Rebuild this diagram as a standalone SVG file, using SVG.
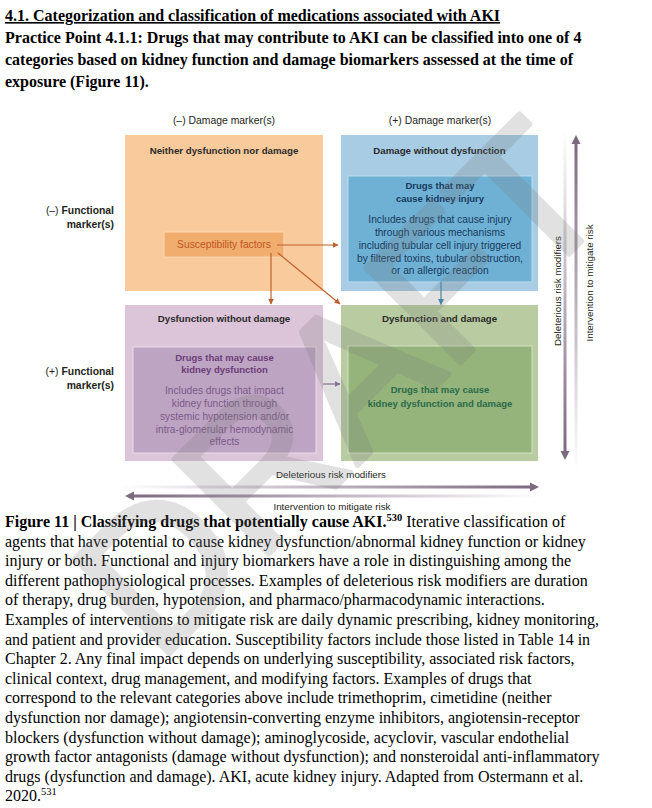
<svg xmlns="http://www.w3.org/2000/svg" width="652" height="808" viewBox="0 0 652 808">
<defs>
<style>
.hdr{font-family:"Liberation Serif","Times New Roman",serif;font-size:16px;font-weight:bold;fill:#000}
.cap{font-family:"Liberation Serif","Times New Roman",serif;font-size:16px;fill:#000}
.sans{font-family:"Liberation Sans",Arial,sans-serif}
.axis{font-family:"Liberation Sans",Arial,sans-serif;font-size:10.4px;fill:#231f20}
.qt{font-family:"Liberation Sans",Arial,sans-serif;font-size:9.7px;font-weight:bold;fill:#2b2a2a;text-anchor:middle}
.it{font-family:"Liberation Sans",Arial,sans-serif;font-size:9.5px;font-weight:bold;text-anchor:middle}
.ib{font-family:"Liberation Sans",Arial,sans-serif;font-size:10.2px;text-anchor:middle}
.rl{font-family:"Liberation Sans",Arial,sans-serif;font-size:9.8px;fill:#231f20;text-anchor:middle}
.oa{stroke:#c0602c;stroke-width:1.2;fill:none}
</style>
<marker id="ho" viewBox="0 0 6 6" refX="5.5" refY="3" markerWidth="6" markerHeight="6" markerUnits="userSpaceOnUse" orient="auto"><path d="M0,0 L6,3 L0,6 Z" fill="#c0602c"/></marker>
<marker id="hb" viewBox="0 0 6 6" refX="5.5" refY="3" markerWidth="6" markerHeight="6" markerUnits="userSpaceOnUse" orient="auto"><path d="M0,0 L6,3 L0,6 Z" fill="#3f88b4"/></marker>
<marker id="hp" viewBox="0 0 6 6" refX="5.5" refY="3" markerWidth="6" markerHeight="6" markerUnits="userSpaceOnUse" orient="auto"><path d="M0,0 L6,3 L0,6 Z" fill="#8b6f98"/></marker>
<linearGradient id="gH1" gradientUnits="userSpaceOnUse" x1="120" y1="0" x2="531" y2="0"><stop offset="0" stop-color="#7d6a80" stop-opacity="0"/><stop offset="1" stop-color="#7d6a80"/></linearGradient>
<linearGradient id="gH2" gradientUnits="userSpaceOnUse" x1="134" y1="0" x2="540" y2="0"><stop offset="0" stop-color="#7d6a80"/><stop offset="1" stop-color="#7d6a80" stop-opacity="0"/></linearGradient>
<linearGradient id="gV1" gradientUnits="userSpaceOnUse" x1="0" y1="130" x2="0" y2="451"><stop offset="0" stop-color="#7d6a80" stop-opacity="0"/><stop offset="1" stop-color="#7d6a80"/></linearGradient>
<linearGradient id="gV2" gradientUnits="userSpaceOnUse" x1="0" y1="144" x2="0" y2="470"><stop offset="0" stop-color="#7d6a80"/><stop offset="1" stop-color="#7d6a80" stop-opacity="0"/></linearGradient>
</defs>
<rect width="652" height="808" fill="#fff"/>

<g id="heading">
<text class="hdr" x="5" y="21" text-decoration="underline">4.1. Categorization and classification of medications associated with AKI</text>
<text class="hdr" x="5" y="43">Practice Point 4.1.1: Drugs that may contribute to AKI can be classified into one of 4</text>
<text class="hdr" x="5" y="65">categories based on kidney function and damage biomarkers assessed at the time of</text>
<text class="hdr" x="5" y="87">exposure (Figure 11).</text>
</g>

<g id="axis-labels">
<text class="axis" x="224" y="124" text-anchor="middle">(–) Damage marker(s)</text>
<text class="axis" x="440" y="124" text-anchor="middle">(+) Damage marker(s)</text>
<text class="axis" x="114" y="214" text-anchor="end">(–) <tspan font-weight="bold">Functional</tspan></text>
<text class="axis" x="114" y="228" text-anchor="end" font-weight="bold">marker(s)</text>
<text class="axis" x="114" y="375" text-anchor="end">(+) <tspan font-weight="bold">Functional</tspan></text>
<text class="axis" x="114" y="389" text-anchor="end" font-weight="bold">marker(s)</text>
</g>

<g id="q-neither">
<rect x="125" y="135" width="198" height="156" fill="#f8ca9c"/>
<text class="qt" x="224" y="154">Neither dysfunction nor damage</text>
</g>

<g id="q-damage">
<rect x="341" y="135" width="197" height="156" fill="#a7cce4"/>
<text class="qt" x="439.5" y="154">Damage without dysfunction</text>
<rect x="348" y="176" width="184" height="106" fill="#6fb1d5" stroke="#bcdcee" stroke-width="1"/>
<text class="it" x="440" y="189" fill="#17395c">Drugs that may</text>
<text class="it" x="440" y="202" fill="#17395c">cause kidney injury</text>
<text class="ib" x="440" y="223" fill="#17395c">Includes drugs that cause injury</text>
<text class="ib" x="440" y="236" fill="#17395c">through various mechanisms</text>
<text class="ib" x="440" y="249" fill="#17395c">including tubular cell injury triggered</text>
<text class="ib" x="440" y="262" fill="#17395c">by filtered toxins, tubular obstruction,</text>
<text class="ib" x="440" y="274" fill="#17395c">or an allergic reaction</text>
</g>

<g id="q-dysfunction">
<rect x="125" y="305" width="198" height="156" fill="#dcc4d9"/>
<text class="qt" x="224" y="322">Dysfunction without damage</text>
<rect x="133" y="347" width="183" height="106" fill="#bea4c3" stroke="#eadbe8" stroke-width="1"/>
<text class="it" x="224.5" y="361" fill="#6a3d78">Drugs that may cause</text>
<text class="it" x="224.5" y="373" fill="#6a3d78">kidney dysfunction</text>
<text class="ib" x="224.5" y="394" fill="#7b5a88">Includes drugs that impact</text>
<text class="ib" x="224.5" y="407" fill="#7b5a88">kidney function through</text>
<text class="ib" x="224.5" y="420" fill="#7b5a88">systemic hypotension and/or</text>
<text class="ib" x="224.5" y="433" fill="#7b5a88">intra-glomerular hemodynamic</text>
<text class="ib" x="224.5" y="445" fill="#7b5a88">effects</text>
</g>

<g id="q-both">
<rect x="341" y="305" width="197" height="156" fill="#b9cca1"/>
<text class="qt" x="439.5" y="322">Dysfunction and damage</text>
<rect x="348" y="346" width="184" height="107" fill="#94b47b" stroke="#d3e1c5" stroke-width="1"/>
<text class="it" x="440" y="393" fill="#2b6a4a">Drugs that may cause</text>
<text class="it" x="440" y="407" fill="#2b6a4a">kidney dysfunction and damage</text>
</g>

<g id="susceptibility">
<rect x="164" y="232" width="120" height="25" fill="#f0ad6d" stroke="#fcd7b1" stroke-width="1"/>
<text class="sans" x="224" y="248" font-size="10.3" text-anchor="middle" fill="#c0561f">Susceptibility factors</text>
</g>

<g id="connectors">
<line class="oa" x1="277" y1="245" x2="338" y2="245" marker-end="url(#ho)"/>
<line class="oa" x1="271" y1="253" x2="271" y2="304" marker-end="url(#ho)"/>
<line class="oa" x1="278" y1="253" x2="340" y2="304" marker-end="url(#ho)"/>
<line x1="441" y1="282" x2="441" y2="304.5" stroke="#3f88b4" stroke-width="1.2" marker-end="url(#hb)"/>
<line x1="323" y1="384" x2="340" y2="384" stroke="#8b6f98" stroke-width="1.2" marker-end="url(#hp)"/>
</g>

<g id="risk-axes">
<line x1="120" y1="487" x2="531" y2="487" stroke="url(#gH1)" stroke-width="3"/>
<polygon points="530,482.5 539,487 530,491.5" fill="#7d6a80"/>
<line x1="133" y1="496" x2="540" y2="496" stroke="url(#gH2)" stroke-width="3"/>
<polygon points="125,496 134,491.5 134,500.5" fill="#7d6a80"/>
<text class="rl" x="331" y="478">Deleterious risk modifiers</text>
<text class="rl" x="332" y="509.5">Intervention to mitigate risk</text>
<line x1="565" y1="130" x2="565" y2="452" stroke="url(#gV1)" stroke-width="3"/>
<polygon points="560.5,451 569.5,451 565,460" fill="#7d6a80"/>
<line x1="576" y1="143" x2="576" y2="470" stroke="url(#gV2)" stroke-width="3"/>
<polygon points="576,135 571.5,144 580.5,144" fill="#7d6a80"/>
<text class="rl" transform="translate(560.5,291) rotate(-90)">Deleterious risk modifiers</text>
<text class="rl" transform="translate(593,283) rotate(-90)">Intervention to mitigate risk</text>
</g>

<g id="caption">
<text class="cap" x="5" y="527"><tspan font-weight="bold">Figure 11 | Classifying drugs that potentially cause AKI.</tspan><tspan font-weight="bold" font-size="10.5" dy="-6">530</tspan><tspan dy="6"> Iterative classification of</tspan></text>
<text class="cap" x="5" y="546.6">agents that have potential to cause kidney dysfunction/abnormal kidney function or kidney</text>
<text class="cap" x="5" y="566.2">injury or both. Functional and injury biomarkers have a role in distinguishing among the</text>
<text class="cap" x="5" y="585.8">different pathophysiological processes. Examples of deleterious risk modifiers are duration</text>
<text class="cap" x="5" y="605.4">of therapy, drug burden, hypotension, and pharmaco/pharmacodynamic interactions.</text>
<text class="cap" x="5" y="625">Examples of interventions to mitigate risk are daily dynamic prescribing, kidney monitoring,</text>
<text class="cap" x="5" y="644.6">and patient and provider education. Susceptibility factors include those listed in Table 14 in</text>
<text class="cap" x="5" y="664.2">Chapter 2. Any final impact depends on underlying susceptibility, associated risk factors,</text>
<text class="cap" x="5" y="683.8">clinical context, drug management, and modifying factors. Examples of drugs that</text>
<text class="cap" x="5" y="703.4">correspond to the relevant categories above include trimethoprim, cimetidine (neither</text>
<text class="cap" x="5" y="723">dysfunction nor damage); angiotensin-converting enzyme inhibitors, angiotensin-receptor</text>
<text class="cap" x="5" y="742.6">blockers (dysfunction without damage); aminoglycoside, acyclovir, vascular endothelial</text>
<text class="cap" x="5" y="762.2">growth factor antagonists (damage without dysfunction); and nonsteroidal anti-inflammatory</text>
<text class="cap" x="5" y="781.8">drugs (dysfunction and damage). AKI, acute kidney injury. Adapted from Ostermann et al.</text>
<text class="cap" x="5" y="801.4">2020.<tspan font-size="10.5" dy="-6">531</tspan></text>
</g>

<g id="watermark" opacity="0.22">
<text transform="translate(158,665) rotate(-45)" font-family="Liberation Sans, Arial, sans-serif" font-size="195" fill="#7a7a7a" stroke="#7a7a7a" stroke-width="5" stroke-linejoin="round">DRAFT</text>
</g>
</svg>
